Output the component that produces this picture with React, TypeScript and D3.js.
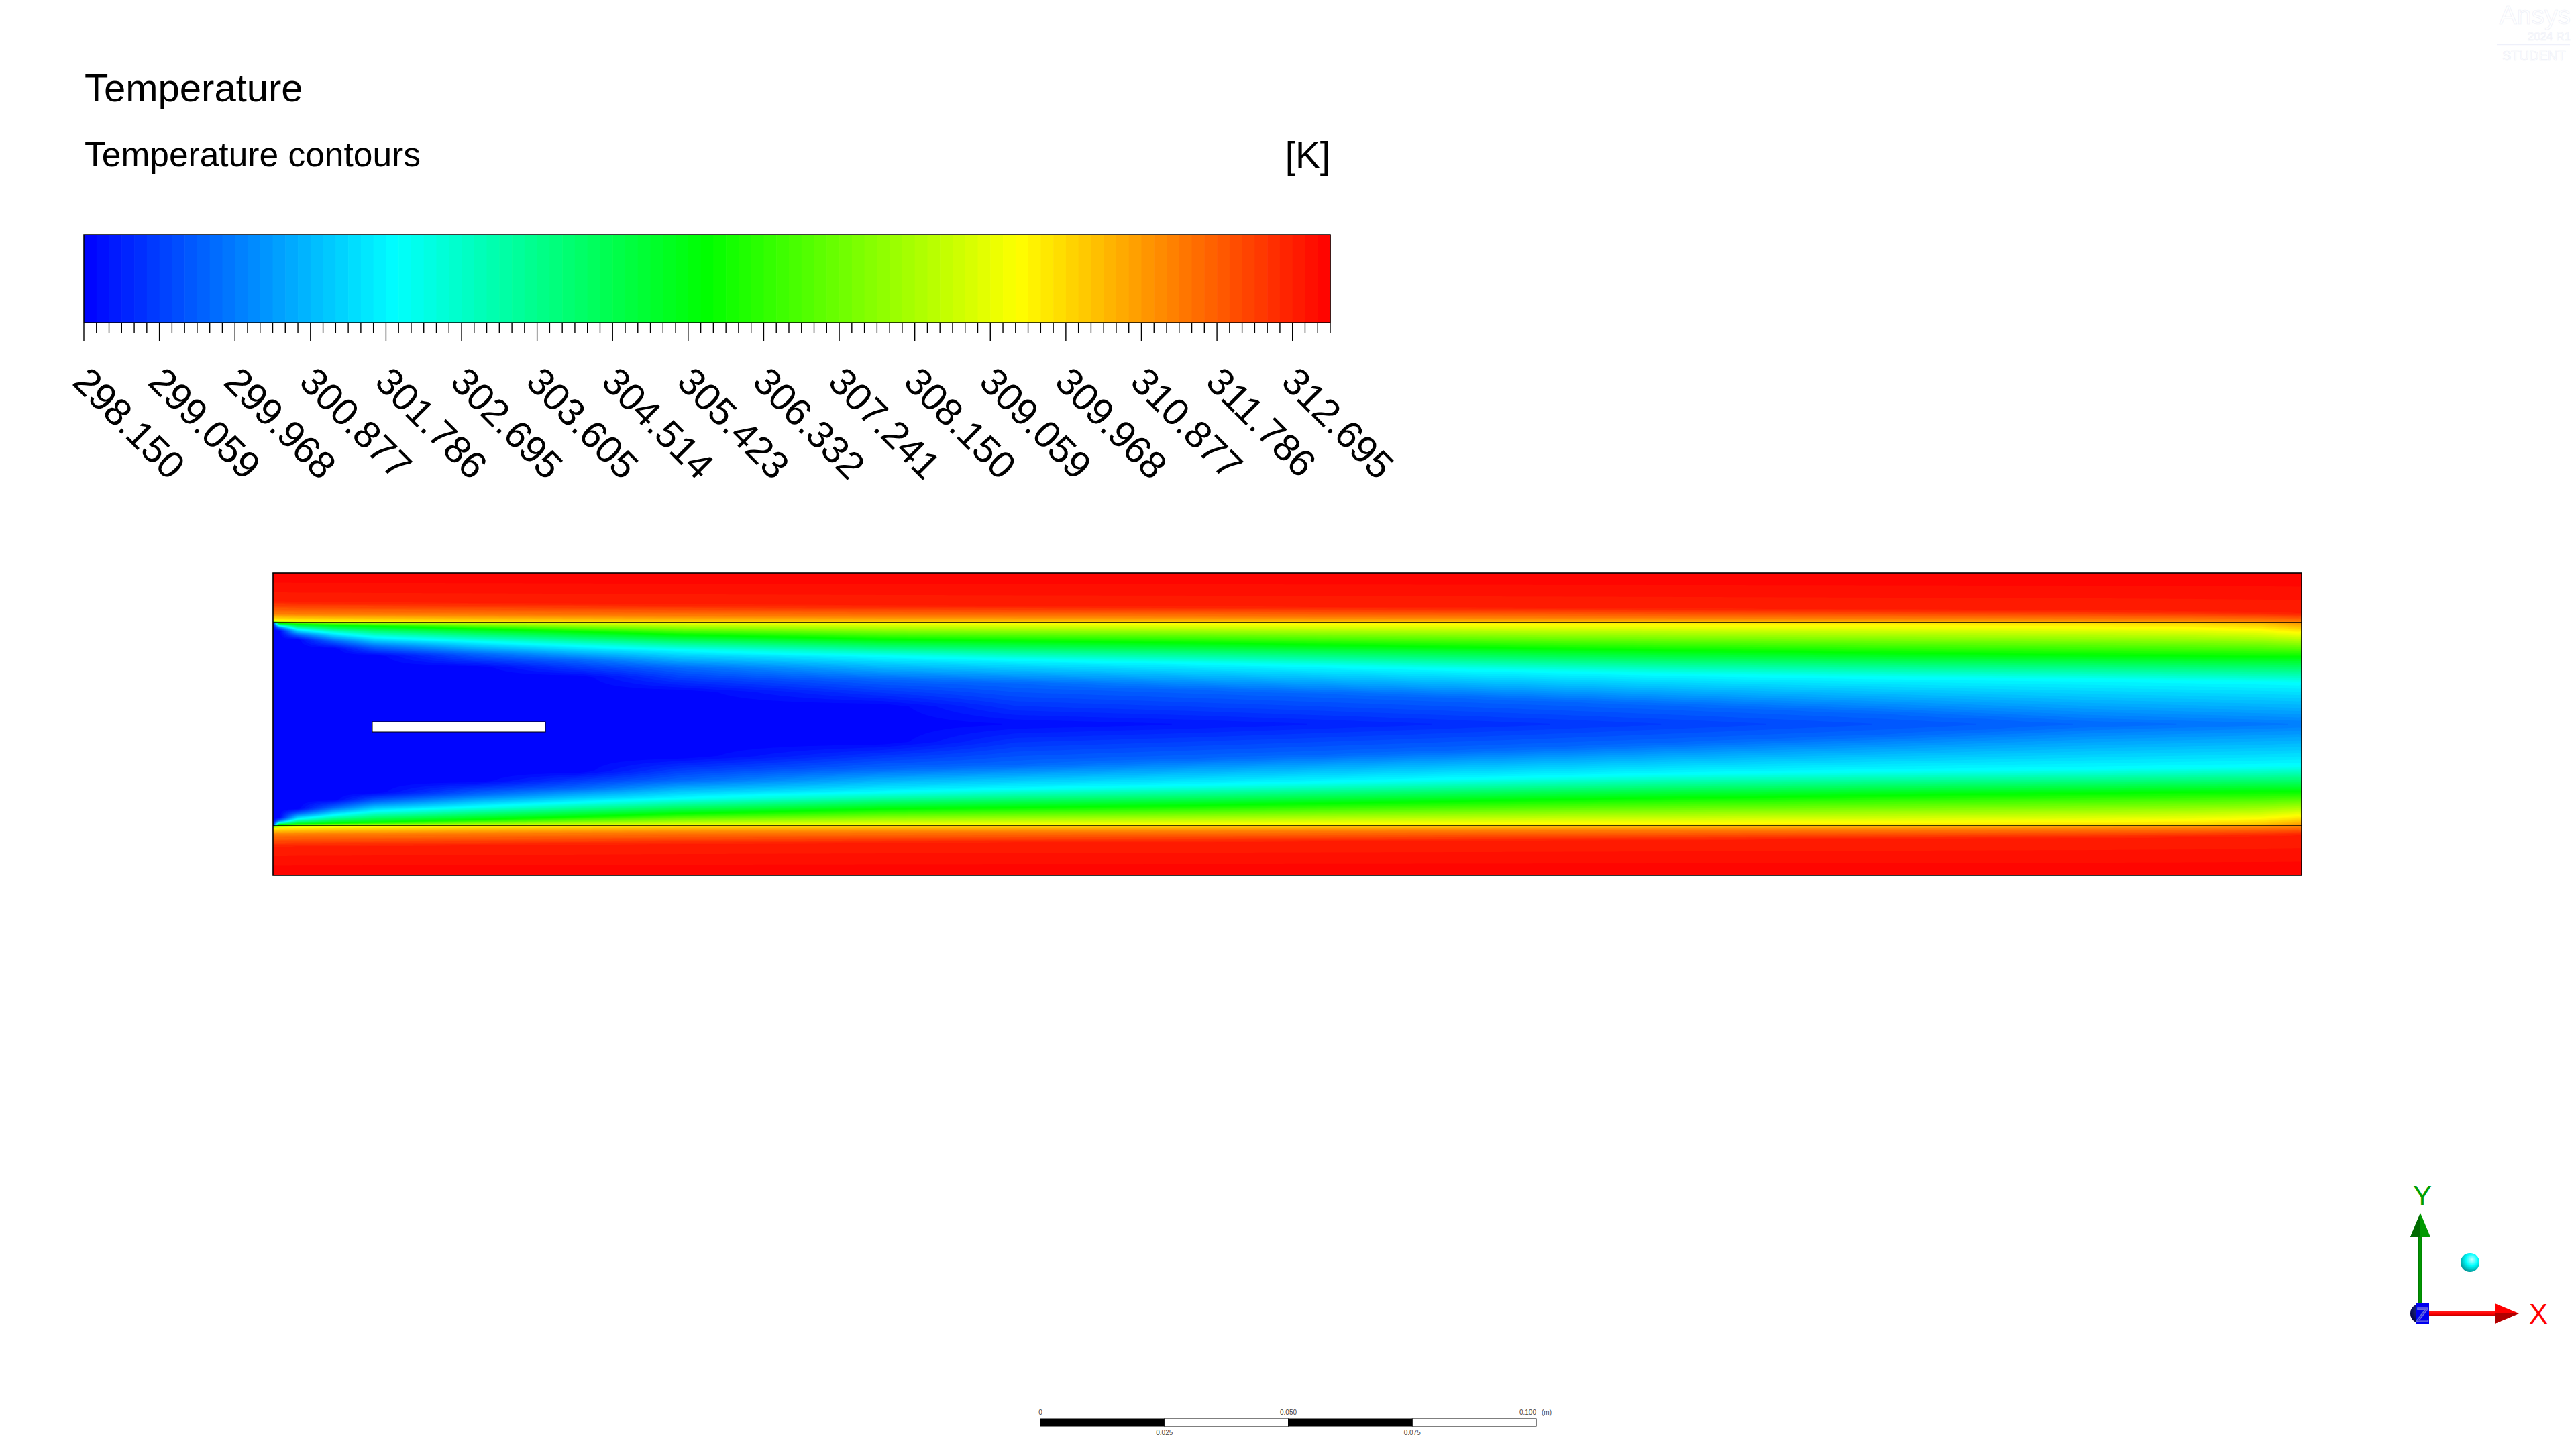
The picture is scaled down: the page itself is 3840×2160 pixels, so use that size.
import React, { useEffect, useMemo } from 'react';
import * as d3 from 'd3';

// ---- legend ----
const legendLabels = [
  '298.150', '299.059', '299.968', '300.877', '301.786', '302.695', '303.605', '304.514', '305.423',
  '306.332', '307.241', '308.150', '309.059', '309.968', '310.877', '311.786', '312.695',
];
const bandCount = 99; // discrete contour bands
const majorEvery = 6; // long tick every 6 small ticks
const rainbowStops = ['#0000ff', '#00ffff', '#00ff00', '#ffff00', '#ff0000'];
const rainbowAt = [0, 0.25, 0.5, 0.75, 1];

// ---- scale bar (m) ----
const scaleTopValues = [0, 0.05, 0.1];
const scaleTopLabels = ['0', '0.050', '0.100'];
const scaleBottomValues = [0.025, 0.075];
const scaleBottomLabels = ['0.025', '0.075'];
const scaleSegments = [0, 0.025, 0.05, 0.075, 0.1];

// ---- temperature field, read at stations along the channel (fraction of length) ----
// temperatures are fractions of the legend range, depths are fractions of the half channel / solid wall
const stationX = [0, 0.003, 0.012, 0.03, 0.05, 0.1, 0.15, 0.2, 0.3, 0.366, 0.453, 0.517, 0.578, 0.636, 0.69, 0.741, 0.793, 0.844, 0.895, 0.946, 0.98, 1.0];
// fluid side, distance from wall (0) to centreline (1)
const fluidWallT = [0.5, 0.6, 0.64, 0.67, 0.69, 0.71, 0.73, 0.745, 0.755, 0.76, 0.765, 0.77, 0.77, 0.775, 0.775, 0.78, 0.78, 0.785, 0.79, 0.8, 0.82, 0.86];
const greenDepth = [0.001, 0.008, 0.015, 0.025, 0.033, 0.06, 0.088, 0.12, 0.165, 0.18, 0.2, 0.22, 0.24, 0.26, 0.275, 0.285, 0.3, 0.31, 0.32, 0.33, 0.335, 0.337];
const cyanDepth = [0.002, 0.03, 0.066, 0.105, 0.143, 0.187, 0.23, 0.27, 0.33, 0.365, 0.4, 0.43, 0.46, 0.485, 0.51, 0.525, 0.54, 0.55, 0.56, 0.575, 0.585, 0.595];
const blueDepth = [0.003, 0.05, 0.12, 0.18, 0.24, 0.31, 0.37, 0.45, 0.56, 0.6, 0.66, 0.7, 0.74, 0.78, 0.82, 0.86, 0.9, 0.95, null, null, null, null];
const coreDepth = [0.005, 0.083, 0.17, 0.258, 0.329, 0.443, 0.537, 0.684, 0.827, 1, 1, 1, 1, 1, 1, 1, 1, 1, 1, 1, 1, 1];
const coreT = [0, 0, 0, 0, 0, 0, 0, 0, 0, 0.0101, 0.0202, 0.0303, 0.0404, 0.0505, 0.0606, 0.0707, 0.0808, 0.0909, 0.101, 0.111, 0.117, 0.121];
// solid side, distance from interface (0) to heated outer face (1)
const solidWallT = [0.5, 0.6, 0.68, 0.72, 0.74, 0.76, 0.77, 0.78, 0.79, 0.79, 0.795, 0.8, 0.8, 0.805, 0.805, 0.81, 0.815, 0.82, 0.83, 0.84, 0.855, 0.87];
const solidYellowDepth = [0.05, 0.04, 0.03, 0.02, 0.01, null, null, null, null, null, null, null, null, null, null, null, null, null, null, null, null, null];
const solidOrangeDepth = [0.17, 0.17, 0.165, 0.16, 0.16, 0.15, 0.14, 0.13, 0.12, 0.115, 0.11, 0.1, 0.095, 0.09, 0.085, 0.08, 0.075, 0.07, 0.06, 0.05, 0.035, 0.02];
const solidRedDepth = [0.42, 0.42, 0.41, 0.41, 0.4, 0.39, 0.375, 0.36, 0.34, 0.33, 0.32, 0.31, 0.3, 0.29, 0.28, 0.27, 0.26, 0.25, 0.24, 0.22, 0.2, 0.18];
const outerT = 1;

const FONT = '"Liberation Sans", Arial, sans-serif';

const rainbow = d3.scaleLinear<string>().domain(rainbowAt).range(rainbowStops).interpolate(d3.interpolateRgb);
const bandColor = (k: number) => rainbow((k + 0.5) / bandCount);

const profile = (pts: [number, number][]) =>
  d3.scaleLinear().domain(pts.map(d => d[0])).range(pts.map(d => d[1])).clamp(true);

const fluidProfiles = stationX.map((_, i) => {
  const pts: [number, number][] = [[0, fluidWallT[i]], [greenDepth[i], 0.5], [cyanDepth[i], 0.25]];
  if (blueDepth[i] !== null) pts.push([blueDepth[i] as number, 0.1]);
  pts.push([coreDepth[i], coreT[i]]);
  return profile(pts);
});

const solidProfiles = stationX.map((_, i) => {
  const pts: [number, number][] = [[0, solidWallT[i]]];
  if (solidYellowDepth[i] !== null) pts.push([solidYellowDepth[i] as number, 0.75]);
  pts.push([solidOrangeDepth[i], 0.875], [solidRedDepth[i], 0.97], [1, outerT]);
  return profile(pts);
});

function alongChannel(profiles: d3.ScaleLinear<number, number>[], xf: number, v: number) {
  const i = Math.max(0, Math.min(stationX.length - 2, d3.bisectRight(stationX, xf) - 1));
  const t = Math.max(0, Math.min(1, (xf - stationX[i]) / (stationX[i + 1] - stationX[i])));
  return profiles[i](v) * (1 - t) + profiles[i + 1](v) * t;
}

function bandPaths(x0: number, x1: number, y0: number, y1: number, cols: number, rows: number,
  valueAt: (xf: number, yf: number) => number) {
  const xGrid = d3.scalePow().exponent(1.5).domain([0, cols]).range([x0, x1]);
  const yGrid = d3.scaleLinear().domain([0, rows]).range([y0, y1]);
  const values: number[] = new Array(cols * rows);
  for (let j = 0; j < rows; j++) {
    for (let i = 0; i < cols; i++) {
      values[j * cols + i] = valueAt((xGrid(i + 0.5) - x0) / (x1 - x0), (j + 0.5) / rows);
    }
  }
  const thresholds = d3.range(1, bandCount).map(k => k / bandCount);
  const path = d3.geoPath(d3.geoTransform({
    point(x: number, y: number) { (this as any).stream.point(xGrid(x), yGrid(y)); },
  }));
  return d3.contours().size([cols, rows]).thresholds(thresholds)(values)
    .map(c => ({ k: Math.round(c.value * bandCount), d: path(c as any) || '' }));
}

// layout
const bar = { x0: 125, x1: 1983, y0: 350, y1: 481 };
const dom = { x0: 407, x1: 3431, outerTop: 854, wallTop: 928, wallBottom: 1231, outerBottom: 1305 };
const plate = { x0: 555, x1: 813, y0: 1076, y1: 1091 };
const sb = { x0: 1551, x1: 2290, y0: 2115, y1: 2126 };

const App: React.FC = () => {
  useEffect(() => { document.body.style.margin = '0'; }, []);

  const regions = useMemo(() => {
    const cols = 480;
    const upper = bandPaths(dom.x0, dom.x1, dom.outerTop, dom.wallTop, cols, 50,
      (xf, yf) => alongChannel(solidProfiles, xf, 1 - yf));
    const fluid = bandPaths(dom.x0, dom.x1, dom.wallTop, dom.wallBottom, cols, 202,
      (xf, yf) => alongChannel(fluidProfiles, xf, 1 - Math.abs(2 * yf - 1)));
    const lower = bandPaths(dom.x0, dom.x1, dom.wallBottom, dom.outerBottom, cols, 50,
      (xf, yf) => alongChannel(solidProfiles, xf, yf));
    return [
      { y0: dom.outerTop, y1: dom.wallTop, bands: upper },
      { y0: dom.wallTop, y1: dom.wallBottom, bands: fluid },
      { y0: dom.wallBottom, y1: dom.outerBottom, bands: lower },
    ];
  }, []);

  const bandX = d3.scaleLinear().domain([0, bandCount]).range([bar.x0, bar.x1]);
  const ticks = d3.range(bandCount + 1);
  const sbX = d3.scaleLinear().domain([0, 0.1]).range([sb.x0, sb.x1]);

  return (
    <svg width={3840} height={2160} viewBox="0 0 3840 2160"
      style={{ position: 'absolute', left: 0, top: 0, background: '#fff' }} fontFamily={FONT}>
      <defs>
        <linearGradient id="gShaft" x1="0" x2="1" y1="0" y2="0">
          <stop offset="0" stopColor="#005a00" />
          <stop offset="0.5" stopColor="#00a800" />
          <stop offset="1" stopColor="#007000" />
        </linearGradient>
        <linearGradient id="rShaft" x1="0" x2="0" y1="0" y2="1">
          <stop offset="0" stopColor="#ff2020" />
          <stop offset="0.6" stopColor="#ff0000" />
          <stop offset="1" stopColor="#a00000" />
        </linearGradient>
        <radialGradient id="cyanBall" cx="0.6" cy="0.35" r="0.7">
          <stop offset="0" stopColor="#c8ffff" />
          <stop offset="0.45" stopColor="#00ffff" />
          <stop offset="1" stopColor="#008c8c" />
        </radialGradient>
        <radialGradient id="navyBall" cx="0.6" cy="0.35" r="0.7">
          <stop offset="0" stopColor="#2a3aa0" />
          <stop offset="1" stopColor="#000040" />
        </radialGradient>
      </defs>
      <rect width={3840} height={2160} fill="#fff" />

      {/* watermark, barely visible */}
      <g fill="#fff" stroke="#eef0f8" strokeWidth={0.7}>
        <text x={3832} y={36} fontSize={39} textAnchor="end">Ansys</text>
        <text x={3832} y={60} fontSize={17} textAnchor="end">2024 R1</text>
        <text x={3730} y={90} fontSize={20}>STUDENT</text>
      </g>
      <line x1={3722} x2={3831} y1={66.5} y2={66.5} stroke="#eef0fa" strokeWidth={1.5} />

      {/* legend titles */}
      <text x={126} y={151} fontSize={58}>Temperature</text>
      <text x={126} y={248} fontSize={51.5}>Temperature contours</text>
      <text x={bar.x1} y={250} fontSize={55} textAnchor="end">[K]</text>

      {/* colour bar */}
      <g>
        {d3.range(bandCount).map(k => (
          <rect key={k} x={bandX(k)} y={bar.y0} width={bandX(k + 1) - bandX(k) + 0.6}
            height={bar.y1 - bar.y0} fill={bandColor(k)} />
        ))}
        <rect x={bar.x0} y={bar.y0} width={bar.x1 - bar.x0} height={bar.y1 - bar.y0}
          fill="none" stroke="#000" strokeWidth={1.5} />
        {ticks.map(t => (
          <line key={t} x1={bandX(t)} x2={bandX(t)} y1={bar.y1}
            y2={bar.y1 + (t % majorEvery === 0 ? 28 : 15)} stroke="#000" strokeWidth={1.4} />
        ))}
        {legendLabels.map((lab, i) => {
          const x = bandX(i * majorEvery) - 19;
          const y = 572;
          return (
            <text key={lab} x={x} y={y} fontSize={57} transform={`rotate(45 ${x} ${y})`}>{lab}</text>
          );
        })}
      </g>

      {/* contour plot */}
      {regions.map((r, ri) => (
        <g key={ri}>
          <rect x={dom.x0} y={r.y0} width={dom.x1 - dom.x0} height={r.y1 - r.y0} fill={bandColor(0)} />
          {r.bands.map(b => (
            <path key={b.k} d={b.d} fill={bandColor(b.k)} />
          ))}
        </g>
      ))}
      <rect x={dom.x0} y={dom.outerTop} width={dom.x1 - dom.x0} height={dom.outerBottom - dom.outerTop}
        fill="none" stroke="#000" strokeWidth={1.6} />
      <line x1={dom.x0} x2={dom.x1} y1={dom.wallTop} y2={dom.wallTop} stroke="#000" strokeWidth={1.6} />
      <line x1={dom.x0} x2={dom.x1} y1={dom.wallBottom} y2={dom.wallBottom} stroke="#000" strokeWidth={1.6} />
      <rect x={plate.x0} y={plate.y0} width={plate.x1 - plate.x0} height={plate.y1 - plate.y0}
        fill="#fff" stroke="#000" strokeWidth={1} />

      {/* scale bar */}
      <g>
        {scaleSegments.slice(0, -1).map((v, i) => (
          <rect key={v} x={sbX(v)} y={sb.y0} width={sbX(scaleSegments[i + 1]) - sbX(v)} height={sb.y1 - sb.y0}
            fill={i % 2 === 0 ? '#000' : '#fff'} stroke="#000" strokeWidth={1} />
        ))}
        {scaleTopValues.map((v, i) => (
          <text key={v} x={sbX(v)} y={2109} fontSize={10} fill="#444"
            textAnchor={i === scaleTopValues.length - 1 ? 'end' : 'middle'}>{scaleTopLabels[i]}</text>
        ))}
        <text x={sb.x1 + 8} y={2109} fontSize={10} fill="#444">(m)</text>
        {scaleBottomValues.map((v, i) => (
          <text key={v} x={sbX(v)} y={2139} fontSize={10} fill="#444" textAnchor="middle">{scaleBottomLabels[i]}</text>
        ))}
      </g>

      {/* axis triad */}
      <g>
        <rect x={3604} y={1843} width={7} height={108} fill="url(#gShaft)" />
        <polygon points="3593,1844 3623,1844 3608,1808" fill="#009a00" />
        <polygon points="3593,1844 3608,1844 3608,1808" fill="#006a00" />
        <rect x={3612} y={1954} width={108} height={8} fill="url(#rShaft)" />
        <polygon points="3719,1943 3719,1973 3755,1958" fill="#ff0000" />
        <polygon points="3719,1958 3719,1973 3755,1958" fill="#b00000" />
        <circle cx={3607} cy={1958} r={14} fill="url(#navyBall)" />
        <rect x={3601} y={1943} width={20} height={30} fill="#0000f0" />
        <text x={3611} y={1970} fontSize={30} textAnchor="middle" fill="none" stroke="#6a6ae0" strokeWidth={1.5}>Z</text>
        <circle cx={3682} cy={1882} r={14} fill="url(#cyanBall)" />
        <text x={3611} y={1797} fontSize={42} textAnchor="middle" fill="#00a000">Y</text>
        <text x={3784} y={1973} fontSize={42} textAnchor="middle" fill="#ff0000">X</text>
      </g>
    </svg>
  );
};

export default App;
